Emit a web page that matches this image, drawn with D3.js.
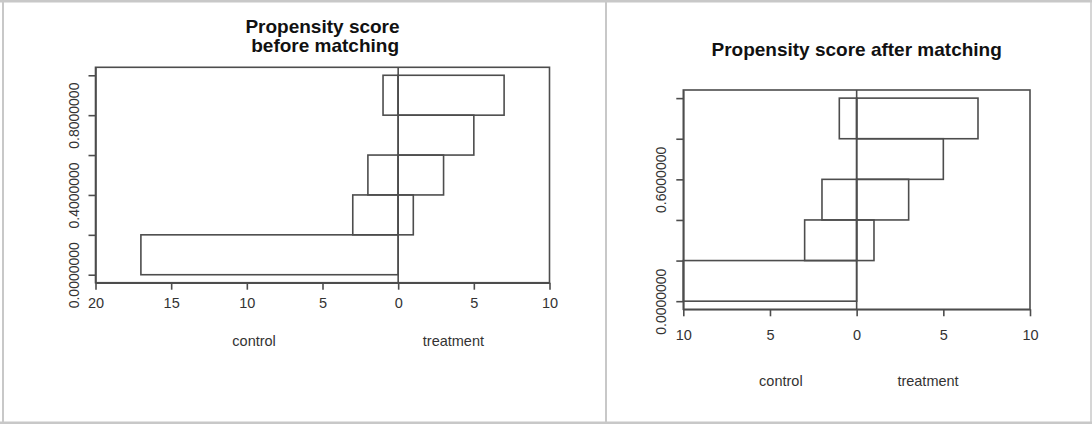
<!DOCTYPE html>
<html>
<head>
<meta charset="utf-8">
<script src="https://cdn.jsdelivr.net/npm/d3@7"></script>
<style>
  body { margin: 0; background: #fff; }
  svg { display: block; }
  text { font-family: "Liberation Sans", Arial, Helvetica, sans-serif; }
</style>
</head>
<body>
<svg id="chart" width="1092" height="424"></svg>
<script>
// Histogram break points of the propensity score (shared by both panels)
const breaks = [0, 0.2, 0.4, 0.6, 0.8, 1.0];

// Counts per bin, before matching
const controlBefore = [17, 3, 2, 0, 1];
const treatmentBefore = [0, 1, 3, 5, 7];

// Counts per bin, after matching
const controlAfter = [10, 3, 2, 0, 1];
const treatmentAfter = [0, 1, 3, 5, 7];

// Axis ticks and their printed labels
const xTicksBefore = [-20, -15, -10, -5, 0, 5, 10];
const xTicksAfter = [-10, -5, 0, 5, 10];
const yLabelsBefore = ["0.0000000", "", "0.4000000", "", "0.8000000", ""];
const yLabelsAfter = ["0.0000000", "", "", "0.6000000", "", ""];

const groupLabels = ["control", "treatment"];
const titleBefore = ["Propensity score", " before matching"];
const titleAfter = ["Propensity score after matching"];

// Layout of each panel (plot box, text offsets)
const panels = [
  {
    control: controlBefore, treatment: treatmentBefore,
    xlim: [-20, 10], xTicks: xTicksBefore, yLabels: yLabelsBefore,
    title: titleBefore, titleY: [32.5, 52],
    box: { left: 95.5, right: 549.5, top: 67.3, bottom: 282.7 },
    xTickPad: 8.5, groupLabelY: 346
  },
  {
    control: controlAfter, treatment: treatmentAfter,
    xlim: [-10, 10], xTicks: xTicksAfter, yLabels: yLabelsAfter,
    title: titleAfter, titleY: [56],
    box: { left: 683.3, right: 1030, top: 90, bottom: 309.3 },
    xTickPad: 13, groupLabelY: 386
  }
];

const ink = "#4d4d4d";
const lineW = 1.6;
const svg = d3.select("#chart");

// Page frame: light grey cell borders around the two panels
const frame = svg.append("g").attr("stroke", "#c8c8c8").attr("fill", "none");
frame.append("line").attr("x1", 0).attr("x2", 1092).attr("y1", 1.2).attr("y2", 1.2).attr("stroke-width", 2.4);
frame.append("line").attr("x1", 0).attr("x2", 1092).attr("y1", 422.8).attr("y2", 422.8).attr("stroke-width", 2.4);
frame.append("line").attr("x1", 3).attr("x2", 3).attr("y1", 0).attr("y2", 424).attr("stroke-width", 2);
frame.append("line").attr("x1", 606).attr("x2", 606).attr("y1", 0).attr("y2", 424).attr("stroke-width", 2);
frame.append("line").attr("x1", 1091).attr("x2", 1091).attr("y1", 0).attr("y2", 424).attr("stroke-width", 1.5);

panels.forEach(p => {
  const b = p.box;
  const x = d3.scaleLinear().domain(p.xlim).range([b.left, b.right]);
  // 4% padding above and below the break range
  const span = breaks[breaks.length - 1] - breaks[0];
  const y = d3.scaleLinear()
    .domain([breaks[0] - 0.04 * span, breaks[breaks.length - 1] + 0.04 * span])
    .range([b.bottom, b.top]);

  const g = svg.append("g");

  // Bars: control grows to the left of zero, treatment to the right
  const bins = breaks.slice(0, -1).map((lo, i) => ({
    lo, hi: breaks[i + 1], c: p.control[i], t: p.treatment[i]
  }));
  const bars = g.append("g").attr("fill", "none").attr("stroke", ink).attr("stroke-width", lineW);
  bars.selectAll("rect.ctrl").data(bins).join("rect")
    .attr("class", "ctrl")
    .attr("x", d => x(-d.c))
    .attr("width", d => x(0) - x(-d.c))
    .attr("y", d => y(d.hi))
    .attr("height", d => y(d.lo) - y(d.hi));
  bars.selectAll("rect.trt").data(bins).join("rect")
    .attr("class", "trt")
    .attr("x", x(0))
    .attr("width", d => x(d.t) - x(0))
    .attr("y", d => y(d.hi))
    .attr("height", d => y(d.lo) - y(d.hi));

  // Zero line
  g.append("line")
    .attr("x1", x(0)).attr("x2", x(0))
    .attr("y1", b.top).attr("y2", b.bottom)
    .attr("stroke", ink).attr("stroke-width", lineW);

  // Plot box
  g.append("rect")
    .attr("x", b.left).attr("y", b.top)
    .attr("width", b.right - b.left).attr("height", b.bottom - b.top)
    .attr("fill", "none").attr("stroke", ink).attr("stroke-width", lineW);

  // Bottom axis: counts shown as absolute values on both sides
  const xAxis = g.append("g")
    .attr("transform", `translate(0,${b.bottom})`)
    .call(d3.axisBottom(x).tickValues(p.xTicks).tickFormat(d => Math.abs(d))
      .tickSize(7).tickSizeOuter(0).tickPadding(p.xTickPad));
  xAxis.select(".domain").attr("stroke", ink).attr("stroke-width", lineW);
  xAxis.selectAll(".tick line").attr("stroke", ink).attr("stroke-width", lineW);
  xAxis.selectAll(".tick text").attr("fill", "#333").attr("font-size", 14.5);

  // Left axis: ticks at every break, rotated labels
  const yAxis = g.append("g")
    .attr("transform", `translate(${b.left},0)`)
    .call(d3.axisLeft(y).tickValues(breaks).tickFormat((d, i) => p.yLabels[i])
      .tickSize(7).tickSizeOuter(0));
  yAxis.select(".domain").attr("stroke", ink).attr("stroke-width", lineW);
  yAxis.selectAll(".tick line").attr("stroke", ink).attr("stroke-width", lineW);
  yAxis.selectAll(".tick text")
    .attr("fill", "#333").attr("font-size", 14)
    .attr("x", 0).attr("y", -17).attr("dy", null)
    .attr("text-anchor", "middle")
    .attr("transform", "rotate(-90)");

  // Group labels under the axis, justified like R's title(adj=...)
  const xl = p.xlim;
  const w = b.right - b.left;
  const adj = [(-0.5 * xl[0]) / (xl[1] - xl[0]), (-xl[0] + 0.5 * xl[1]) / (xl[1] - xl[0])];
  groupLabels.forEach((lab, i) => {
    const t = g.append("text")
      .attr("y", p.groupLabelY)
      .attr("font-size", 14.5).attr("fill", "#333")
      .attr("text-anchor", "start")
      .text(lab);
    const tw = t.node().getComputedTextLength();
    t.attr("x", b.left + adj[i] * (w - tw));
  });

  // Title, centred over the plot box
  p.title.forEach((line, i) => {
    g.append("text")
      .attr("x", (b.left + b.right) / 2)
      .attr("y", p.titleY[i])
      .attr("text-anchor", "middle")
      .attr("font-size", 19).attr("font-weight", "bold").attr("fill", "#111")
      .style("white-space", "pre")
      .text(line);
  });
});
</script>
</body>
</html>
